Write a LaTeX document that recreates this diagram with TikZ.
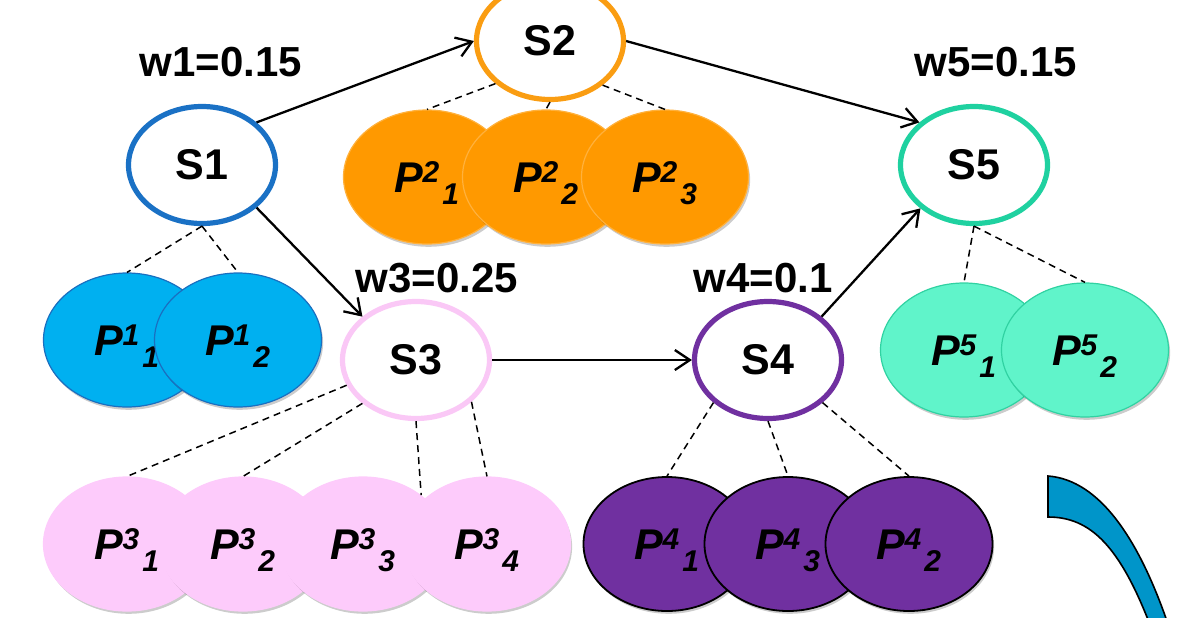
\documentclass[tikz,border=0pt]{standalone}
\usepackage{fontspec}
\setmainfont{Liberation Sans}
\usetikzlibrary{arrows.meta,shapes.geometric,shadows}

\definecolor{blueRing}{HTML}{1A71C5}
\definecolor{blueFill}{HTML}{00B0F0}
\definecolor{blueEdge}{HTML}{1A6FC0}
\definecolor{orangeRing}{HTML}{FA9D12}
\definecolor{orangeFill}{HTML}{FF9900}
\definecolor{orangeEdge}{HTML}{FFB13C}
\definecolor{pinkRing}{HTML}{FAC8F6}
\definecolor{pinkFill}{HTML}{FDCBFB}
\definecolor{purpleRing}{HTML}{7030A0}
\definecolor{purpleFill}{HTML}{7030A0}
\definecolor{tealRing}{HTML}{1FD1A0}
\definecolor{tealFill}{HTML}{60F4CA}
\definecolor{tealEdge}{HTML}{30D2A2}
\definecolor{swooshFill}{HTML}{0095C9}

% P with a superscript and a trailing subscript
\newcommand{\plab}[2]{P\kern-0.5pt\raisebox{5pt}{\fontsize{15}{15}\selectfont #1}\hspace{1.5pt}\smash{\raisebox{-6pt}{\fontsize{15}{15}\selectfont #2}}}

\begin{document}
\begin{tikzpicture}[x=0.5pt,y=-0.5pt,
  state/.style={ellipse, draw, fill=white, line width=2.6pt,
    minimum width=73.5pt, minimum height=58.5pt, inner sep=0pt,
    font=\fontsize{21.5}{25}\selectfont\bfseries},
  part/.style={ellipse, draw, line width=0.6pt,
    minimum width=83.5pt, minimum height=67pt, inner sep=0pt,
    font=\fontsize{21.5}{25}\selectfont\bfseries\itshape,
    drop shadow={shadow xshift=0.8pt, shadow yshift=-1.4pt, opacity=0.2, fill=black}},
  flow/.style={line width=1.15pt, -{Straight Barb[length=7.5pt,width=10pt]}},
  link/.style={line width=0.75pt, dash pattern=on 3.5pt off 2.5pt},
  weight/.style={font=\fontsize{21}{25}\selectfont\bfseries}
]
\useasboundingbox (0,0) rectangle (1190,617);

% state nodes
\node[state, draw=blueRing]   (S1) at (202,165) {S1};
\node[state, draw=orangeRing] (S2) at (550,41)  {S2};
\node[state, draw=pinkRing]   (S3) at (416,360) {S3};
\node[state, draw=purpleRing] (S4) at (768,360) {S4};
\node[state, draw=tealRing]   (S5) at (974,165) {S5};

% weights
\node[weight] (w1) at (221,62)  {w1=0.15};
\node[weight] (w5) at (996,62)  {w5=0.15};
\node[weight] (w3) at (437,278) {w3=0.25};
\node[weight] (w4) at (763,278) {w4=0.1};

% partitions of S1
\node[part, fill=blueFill, draw=blueEdge] (P11) at (127,340) {\plab{1}{1}};
\node[part, fill=blueFill, draw=blueEdge] (P12) at (238,340) {\plab{1}{2}};

% partitions of S2
\node[part, fill=orangeFill, draw=orangeEdge] (P21) at (427,177) {\plab{2}{1}};
\node[part, fill=orangeFill, draw=orangeEdge] (P22) at (546,177) {\plab{2}{2}};
\node[part, fill=orangeFill, draw=orangeEdge] (P23) at (665,177) {\plab{2}{3}};

% partitions of S3
\node[part, fill=pinkFill, draw=pinkFill] (P31) at (127,544) {\plab{3}{1}};
\node[part, fill=pinkFill, draw=pinkFill] (P32) at (243,544) {\plab{3}{2}};
\node[part, fill=pinkFill, draw=pinkFill] (P33) at (363,544) {\plab{3}{3}};
\node[part, fill=pinkFill, draw=pinkFill] (P34) at (487,544) {\plab{3}{4}};

% partitions of S4
\node[part, fill=purpleFill, draw=black, line width=0.9pt] (P41) at (667,544) {\plab{4}{1}};
\node[part, fill=purpleFill, draw=black, line width=0.9pt] (P43) at (788,544) {\plab{4}{3}};
\node[part, fill=purpleFill, draw=black, line width=0.9pt] (P42) at (909,544) {\plab{4}{2}};

% partitions of S5
\node[part, fill=tealFill, draw=tealEdge] (P51) at (964,350) {\plab{5}{1}};
\node[part, fill=tealFill, draw=tealEdge] (P52) at (1085,350) {\plab{5}{2}};

% transitions
\draw[flow] (S1.38)  -- (S2.west);
\draw[flow] (S2.east) -- (S5.142);
\draw[flow] (S1.-38) -- (S3.141);
\draw[flow] (S3) -- (S4);
\draw[flow] (S4.39)  -- (S5.219);

% membership links
\draw[link] (S1.south) -- (P11.north);
\draw[link] (S1.south) -- (P12.north);
\draw[link] (S2.218)   -- (P21.north);
\draw[link] (S2.south) -- (P22.north);
\draw[link] (S2.-40)   -- (P23.north);
\draw[link] (S3.200)   -- (P31.north);
\draw[link] (S3.219)   -- (P32.north);
\draw[link] (S3.south) -- (P33.40);
\draw[link] (S3.-37)   -- (P34.north);
\draw[link] (S4.218)   -- (P41.north);
\draw[link] (S4.south) -- (P43.north);
\draw[link] (S4.-38)   -- (P42.north);
\draw[link] (S5.south) -- (P51.north);
\draw[link] (S5.south) -- (P52.north);

% curved blue band in the corner
\filldraw[fill=swooshFill, draw=black, line width=0.8pt]
  (1048,476) .. controls (1100,480) and (1140,540) .. (1170,630)
  -- (1152,630) .. controls (1120,545) and (1090,517) .. (1048,517) -- cycle;
\end{tikzpicture}
\end{document}
